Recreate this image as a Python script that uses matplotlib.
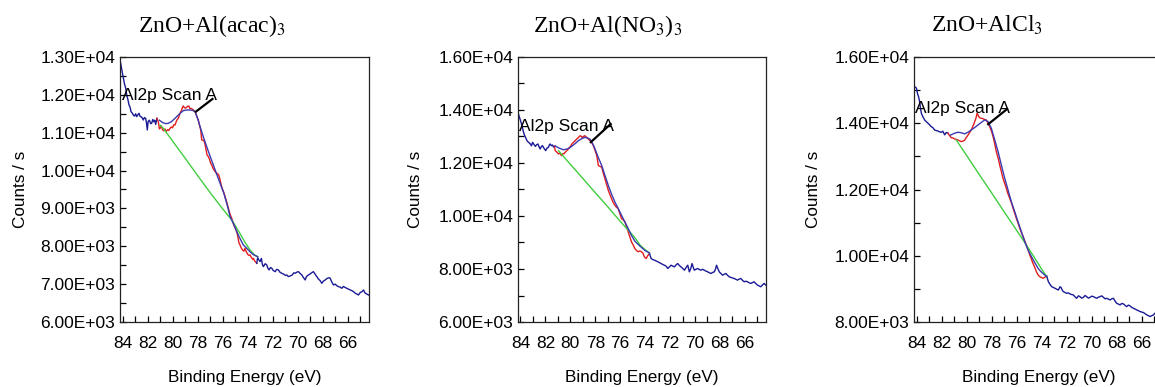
import numpy as np
import matplotlib
matplotlib.use('Agg')
import matplotlib.pyplot as plt
from matplotlib.ticker import FuncFormatter, MultipleLocator

plt.rcParams['font.family'] = ['Liberation Sans', 'DejaVu Sans']
plt.rcParams['mathtext.fontset'] = 'stix'

titles = ['ZnO+Al(acac)$_3$', 'ZnO+Al(NO$_3$)$_3$', 'ZnO+AlCl$_3$']
ylims = [(6000, 13000), (6000, 16000), (8000, 16000)]
ymajor = [1000, 2000, 2000]
yminor = [500, 1000, 1000]

# ---- panel 1 : ZnO+Al(acac)3 ----
p1_raw_x = [84.15, 84.05, 83.95, 83.85, 83.75, 83.66, 83.55, 83.48, 83.40, 83.32, 83.22, 83.14, 83.05, 82.95,
            82.87, 82.78, 82.68, 82.60, 82.52, 82.42, 82.34, 82.25, 82.15, 82.08, 82.02, 81.95, 81.85, 81.75,
            81.67, 81.58, 81.50, 81.42, 81.35, 81.25, 81.14, 81.05, 81.00, 80.90, 80.80, 80.70, 80.60, 80.52,
            80.40, 80.30, 80.20, 80.10, 80.00, 79.90, 79.80, 79.70, 79.62, 79.54, 79.45, 79.35, 79.27, 79.20,
            79.14, 79.05, 78.95, 78.85, 78.78, 78.70, 78.62, 78.50, 78.40, 78.30, 78.20, 78.10, 78.00, 77.94,
            77.85, 77.75, 77.67, 77.55, 77.45, 77.35, 77.25, 77.14, 77.05, 76.95, 76.87, 76.75, 76.65, 76.55,
            76.47, 76.40, 76.30, 76.20, 76.10, 76.00, 75.90, 75.80, 75.70, 75.60, 75.54, 75.45, 75.35, 75.27,
            75.15, 75.05, 74.95, 74.87, 74.78, 74.70, 74.61, 74.50, 74.40, 74.30, 74.21, 74.10, 74.00, 73.90,
            73.80, 73.70, 73.60, 73.54, 73.45, 73.35, 73.27, 73.20, 73.10, 73.00, 72.90, 72.82, 72.74, 72.60,
            72.47, 72.38, 72.28, 72.18, 72.07, 71.95, 71.80, 71.68, 71.54, 71.40, 71.27, 71.10, 70.98, 70.87,
            70.75, 70.60, 70.45, 70.30, 70.20, 70.05, 69.94, 69.80, 69.67, 69.55, 69.40, 69.30, 69.14, 69.00,
            68.85, 68.74, 68.60, 68.47, 68.35, 68.20, 68.07, 67.95, 67.80, 67.65, 67.50, 67.40, 67.28, 67.14,
            67.00, 66.88, 66.74, 66.60, 66.47, 66.35, 66.20, 66.07, 65.95, 65.80, 65.68, 65.54, 65.40, 65.28,
            65.14, 65.00, 64.86, 64.74, 64.60, 64.48, 64.34]
p1_raw_y = [12840, 12650, 12480, 12300, 12180, 11996, 11850, 11732, 11680, 11555, 11520, 11468, 11440, 11500,
            11424, 11470, 11513, 11430, 11424, 11390, 11336, 11400, 11380, 11250, 11072, 11300, 11330, 11240,
            11248, 11350, 11290, 11330, 11220, 11380, 11292, 11100, 11117, 11180, 11080, 11050, 11100, 11028,
            11080, 11060, 11117, 11150, 11130, 11210, 11204, 11300, 11350, 11380, 11470, 11550, 11600, 11680,
            11706, 11660, 11650, 11680, 11700, 11706, 11640, 11640, 11618, 11590, 11555, 11470, 11380, 11336,
            11200, 11072, 10808, 10800, 10760, 10600, 10420, 10367, 10300, 10190, 10148, 10050, 10000, 9950,
            9928, 9920, 9880, 9750, 9600, 9500, 9420, 9310, 9200, 9080, 9004, 8900, 8800, 8740,
            8600, 8520, 8450, 8386, 8250, 8100, 8034, 7950, 7900, 7870, 7947, 7850, 7790, 7760,
            7770, 7700, 7660, 7683, 7620, 7580, 7551, 7700, 7640, 7595, 7680, 7520, 7462, 7540,
            7507, 7420, 7375, 7440, 7419, 7360, 7330, 7390, 7375, 7310, 7287, 7260, 7230, 7242,
            7200, 7216, 7240, 7300, 7287, 7320, 7330, 7280, 7243, 7180, 7110, 7200, 7243, 7270,
            7310, 7330, 7260, 7198, 7140, 7090, 7022, 7080, 7110, 7150, 7170, 7155, 7060, 6978,
            7000, 6960, 6934, 6920, 6890, 6940, 6910, 6890, 6870, 6846, 6830, 6802, 6760, 6740,
            6714, 6780, 6800, 6846, 6760, 6740, 6714]
p1_fit = (81.25, 73.27)
p1_env_x = [81.05, 80.80, 80.55, 80.34, 80.10, 79.80, 79.54, 79.30, 79.14, 78.90, 78.60, 78.40, 78.20, 78.00,
            77.80, 77.55, 77.27, 77.00, 76.74, 76.47, 76.20, 75.90, 75.60, 75.40, 75.10, 74.87, 74.60, 74.34,
            74.10, 73.80, 73.50, 73.20]
p1_env_y = [11330, 11270, 11240, 11248, 11290, 11380, 11468, 11540, 11582, 11600, 11600, 11590, 11555, 11380,
            11160, 10900, 10630, 10380, 10148, 9900, 9664, 9400, 9050, 8782, 8580, 8386, 8200, 8034,
            7960, 7850, 7770, 7727]
p1_bg_x = [81.00, 80.74, 80.00, 79.00, 78.00, 77.00, 76.00, 75.27, 75.00, 74.60, 74.20, 73.80, 73.40, 73.20]
p1_bg_y = [11200, 11117, 10780, 10330, 9870, 9420, 8990, 8695, 8550, 8330, 8100, 7900, 7760, 7727]
p1_note = (84.02, 11864)
p1_arrow = ([78.2, 76.74], [11540, 11909])

# ---- panel 2 : ZnO+Al(NO3)3 ----
p2_raw_x = [84.20, 84.10, 84.00, 83.88, 83.78, 83.68, 83.58, 83.48, 83.40, 83.30, 83.21, 83.12, 83.03, 82.92,
            82.81, 82.70, 82.60, 82.50, 82.42, 82.33, 82.24, 82.12, 81.98, 81.88, 81.76, 81.68, 81.62, 81.52,
            81.43, 81.35, 81.27, 81.22, 81.10, 80.95, 80.85, 80.75, 80.68, 80.58, 80.50, 80.42, 80.30, 80.15,
            80.05, 79.95, 79.88, 79.75, 79.60, 79.48, 79.35, 79.22, 79.10, 79.05, 78.95, 78.85, 78.75, 78.68,
            78.55, 78.42, 78.30, 78.15, 78.00, 77.88, 77.75, 77.60, 77.48, 77.35, 77.22, 77.10, 76.95, 76.82,
            76.69, 76.55, 76.42, 76.30, 76.15, 76.00, 75.89, 75.75, 75.62, 75.50, 75.35, 75.22, 75.09, 74.95,
            74.82, 74.70, 74.55, 74.42, 74.30, 74.18, 74.05, 73.91, 73.80, 73.65, 73.52, 73.40, 73.25, 73.10,
            72.98, 72.85, 72.72, 72.58, 72.45, 72.30, 72.18, 72.05, 71.92, 71.78, 71.65, 71.52, 71.39, 71.25,
            71.12, 70.98, 70.85, 70.72, 70.58, 70.45, 70.35, 70.23, 70.15, 70.05, 69.92, 69.78, 69.65, 69.52,
            69.38, 69.25, 69.12, 68.98, 68.85, 68.72, 68.58, 68.45, 68.35, 68.27, 68.15, 68.05, 67.92, 67.78,
            67.65, 67.52, 67.38, 67.25, 67.10, 66.98, 66.85, 66.72, 66.58, 66.45, 66.32, 66.18, 66.05, 65.92,
            65.78, 65.65, 65.52, 65.38, 65.25, 65.12, 64.98, 64.85, 64.72, 64.58, 64.45, 64.32, 64.20]
p2_raw_y = [13906, 13750, 13600, 13406, 13200, 13050, 12950, 12842, 12800, 12760, 12718, 12650, 12780, 12700,
            12628, 12690, 12718, 12600, 12530, 12620, 12655, 12560, 12466, 12560, 12590, 12690, 12718, 12650,
            12680, 12600, 12628, 12466, 12420, 12342, 12380, 12300, 12278, 12360, 12350, 12403, 12460, 12530,
            12600, 12650, 12718, 12780, 12850, 12906, 12960, 13030, 13000, 12960, 13000, 13030, 12990, 12967,
            12900, 12842, 12780, 12654, 12450, 12278, 11900, 11870, 11840, 11600, 11403, 11200, 10963, 10800,
            10650, 10500, 10400, 10330, 10275, 10050, 9900, 9850, 9775, 9600, 9396, 9200, 9020, 8900,
            8770, 8700, 8650, 8680, 8650, 8600, 8450, 8395, 8500, 8583, 8395, 8360, 8332, 8300,
            8270, 8240, 8207, 8170, 8143, 8100, 8020, 8080, 8143, 8110, 8080, 8150, 8207, 8130,
            8080, 8020, 7955, 8050, 8143, 7893, 8000, 8207, 8080, 7955, 7990, 8020, 7980, 7955,
            7990, 7955, 7920, 7893, 7860, 7830, 7870, 7893, 8000, 8143, 8000, 7893, 7830, 7767,
            7800, 7830, 7760, 7705, 7680, 7660, 7642, 7610, 7580, 7620, 7642, 7570, 7517, 7540,
            7517, 7480, 7455, 7490, 7517, 7450, 7392, 7360, 7330, 7400, 7455, 7390, 7390]
p2_fit = (81.27, 73.65)
p2_env_x = [81.22, 80.90, 80.55, 80.25, 80.00, 79.65, 79.35, 79.05, 78.82, 78.60, 78.42, 78.20, 78.02, 77.75,
            77.48, 77.20, 76.95, 76.70, 76.42, 76.15, 75.89, 75.62, 75.35, 75.10, 74.82, 74.45, 74.02, 73.65]
p2_env_y = [12650, 12560, 12500, 12530, 12590, 12720, 12842, 12930, 12967, 12940, 12900, 12720, 12530, 12200,
            11900, 11500, 11150, 10830, 10525, 10270, 10025, 9770, 9520, 9270, 9050, 8880, 8700, 8605]
p2_bg_x = [80.95, 80.00, 79.00, 78.00, 77.00, 76.00, 75.22, 74.80, 74.40, 74.00, 73.65]
p2_bg_y = [12466, 11950, 11420, 10880, 10350, 9800, 9396, 9170, 8900, 8730, 8605]
p2_note = (84.15, 13200)
p2_arrow = ([78.42, 76.7], [12760, 13500])

# ---- panel 3 : ZnO+AlCl3 ----
p3_raw_x = [84.15, 84.05, 84.00, 83.92, 83.82, 83.75, 83.68, 83.61, 83.50, 83.42, 83.35, 83.22, 83.08, 82.95,
            82.82, 82.70, 82.55, 82.42, 82.28, 82.15, 82.02, 81.90, 81.75, 81.62, 81.48, 81.40, 81.30, 81.22,
            81.10, 80.95, 80.80, 80.68, 80.55, 80.42, 80.30, 80.15, 80.00, 79.88, 79.75, 79.62, 79.50, 79.35,
            79.25, 79.16, 79.08, 79.03, 78.92, 78.82, 78.70, 78.60, 78.50, 78.42, 78.28, 78.15, 78.00, 77.88,
            77.75, 77.62, 77.48, 77.35, 77.22, 77.09, 76.95, 76.82, 76.70, 76.55, 76.42, 76.28, 76.15, 76.02,
            75.88, 75.75, 75.62, 75.48, 75.35, 75.22, 75.08, 74.95, 74.82, 74.69, 74.55, 74.42, 74.30, 74.15,
            74.00, 73.89, 73.75, 73.60, 73.46, 73.32, 73.19, 73.05, 72.92, 72.80, 72.66, 72.53, 72.45, 72.35,
            72.26, 72.12, 72.00, 71.86, 71.73, 71.60, 71.46, 71.33, 71.20, 71.06, 70.93, 70.80, 70.66, 70.53,
            70.40, 70.26, 70.13, 70.00, 69.86, 69.73, 69.60, 69.46, 69.33, 69.20, 69.06, 68.93, 68.80, 68.66,
            68.53, 68.40, 68.26, 68.13, 68.00, 67.86, 67.73, 67.60, 67.46, 67.33, 67.20, 67.06, 66.93, 66.80,
            66.66, 66.53, 66.40, 66.26, 66.13, 66.00, 65.86, 65.73, 65.60, 65.46, 65.33, 65.20, 65.06, 64.93,
            64.80, 64.65, 64.50, 64.30]
p3_raw_y = [15103, 15080, 15050, 14900, 14780, 14650, 14450, 14300, 14200, 14150, 14098, 14050, 14000, 13950,
            13896, 13870, 13796, 13780, 13765, 13740, 13727, 13760, 13650, 13720, 13700, 13650, 13600, 13560,
            13560, 13524, 13510, 13490, 13470, 13443, 13460, 13490, 13580, 13645, 13720, 13800, 13900, 14047,
            14150, 14300, 14250, 14200, 14160, 14150, 14140, 14120, 14110, 14098, 14000, 13896, 13750, 13594,
            13380, 13141, 12950, 12738, 12540, 12338, 12180, 12037, 11880, 11735, 11600, 11433, 11280, 11130,
            10980, 10830, 10700, 10578, 10450, 10325, 10180, 10023, 9900, 9770, 9650, 9520, 9430, 9368,
            9340, 9320, 9350, 9390, 9216, 9130, 9065, 9040, 9015, 8990, 8966, 9065, 9040, 8960,
            8915, 8890, 8865, 8880, 8845, 8830, 8815, 8760, 8715, 8790, 8765, 8720, 8745, 8800,
            8765, 8720, 8745, 8780, 8765, 8740, 8715, 8750, 8765, 8790, 8745, 8700, 8715, 8690,
            8665, 8700, 8715, 8630, 8565, 8540, 8515, 8560, 8545, 8500, 8465, 8510, 8485, 8440,
            8415, 8390, 8365, 8340, 8315, 8300, 8285, 8250, 8215, 8190, 8165, 8190, 8215, 8270,
            8230, 8200, 8230, 8200]
p3_fit = (81.48, 73.60)
p3_env_x = [81.30, 80.95, 80.68, 80.40, 80.15, 79.88, 79.62, 79.35, 79.08, 78.80, 78.55, 78.28, 78.02, 77.75,
            77.48, 77.22, 76.95, 76.68, 76.42, 76.15, 75.89, 75.62, 75.35, 75.08, 74.82, 74.53, 74.25, 74.00,
            73.60]
p3_env_y = [13640, 13700, 13730, 13710, 13680, 13730, 13800, 13870, 13950, 14030, 14100, 14050, 13850, 13500,
            13141, 12740, 12340, 11980, 11630, 11330, 11030, 10730, 10425, 10170, 9980, 9780, 9600, 9500,
            9368]
p3_bg_x = [80.82, 80.00, 79.00, 78.00, 77.00, 76.00, 75.22, 74.60, 74.00, 73.60]
p3_bg_y = [13494, 13030, 12460, 11900, 11330, 10770, 10325, 9960, 9600, 9368]
p3_note = (84.1, 14300)
p3_arrow = ([78.34, 76.69], [13950, 14450])

panels = [
    (p1_raw_x, p1_raw_y, p1_fit, p1_env_x, p1_env_y, p1_bg_x, p1_bg_y, p1_note, p1_arrow),
    (p2_raw_x, p2_raw_y, p2_fit, p2_env_x, p2_env_y, p2_bg_x, p2_bg_y, p2_note, p2_arrow),
    (p3_raw_x, p3_raw_y, p3_fit, p3_env_x, p3_env_y, p3_bg_x, p3_bg_y, p3_note, p3_arrow),
]

W, H = 1155, 387
boxes = [(120, 369), (518, 766), (914, 1163)]   # pixel left/right of each frame
title_x = [212, 608, 987]
ylabel_x = [-0.37, -0.385, -0.375]

fig = plt.figure(figsize=(W / 100, H / 100), dpi=100)

navy = '#1a1a96'
env_blue = '#3a3ab0'
red = '#e01e1e'
green = '#3fcf3f'

for i, (rx, ry, fit, ex, ey, bx, by, note, arrow) in enumerate(panels):
    left, right = boxes[i]
    ax = fig.add_axes([left / W, 1 - 322 / H, (right - left) / W, 265 / H])
    rx = np.array(rx)
    ry = np.array(ry)
    hi, lo = fit
    i0 = np.argmax(rx <= hi)
    i1 = len(rx) - 1 - np.argmax(rx[::-1] >= lo)
    ax.plot(rx[:i0 + 1], ry[:i0 + 1], color=navy, lw=1.0)
    ax.plot(rx[i0:i1 + 1], ry[i0:i1 + 1], color=red, lw=1.0)
    ax.plot(rx[i1:], ry[i1:], color=navy, lw=1.0)
    ax.plot(bx, by, color=green, lw=1.0)
    ax.plot(ex, ey, color=env_blue, lw=1.0)

    ax.text(note[0], note[1], 'Al2p Scan A', fontsize=12.5, ha='left', va='baseline')
    ax.plot(arrow[0], arrow[1], color='black', lw=1.6, solid_capstyle='butt')

    ax.set_xlim(84.2, 64.3)
    ax.set_ylim(*ylims[i])
    ax.xaxis.set_major_locator(MultipleLocator(2))
    ax.xaxis.set_minor_locator(MultipleLocator(1))
    ax.yaxis.set_major_locator(MultipleLocator(ymajor[i]))
    ax.yaxis.set_minor_locator(MultipleLocator(yminor[i]))
    ax.yaxis.set_major_formatter(FuncFormatter(lambda v, p: f'{v:.2E}'))
    ax.xaxis.set_major_formatter(FuncFormatter(lambda v, p: f'{v:.0f}'))
    ax.tick_params(which='both', direction='in', length=4, width=0.9, labelsize=12.5)
    ax.tick_params(axis='x', which='both', pad=10)
    ax.tick_params(axis='y', which='both', pad=3.5)
    for s in ax.spines.values():
        s.set_linewidth(0.9)
        s.set_color('#222222')

    ax.set_xlabel('Binding Energy (eV)', fontsize=12.3)
    ax.set_ylabel('Counts / s', fontsize=12.3)
    ax.xaxis.set_label_coords(0.5, -0.18)
    ax.yaxis.set_label_coords(ylabel_x[i], 0.5)

    fig.text(title_x[i] / W, 1 - 32 / H, titles[i], fontsize=17, ha='center', va='baseline',
             family=['Liberation Serif', 'DejaVu Serif'])

fig.savefig('out.png', dpi=100)
